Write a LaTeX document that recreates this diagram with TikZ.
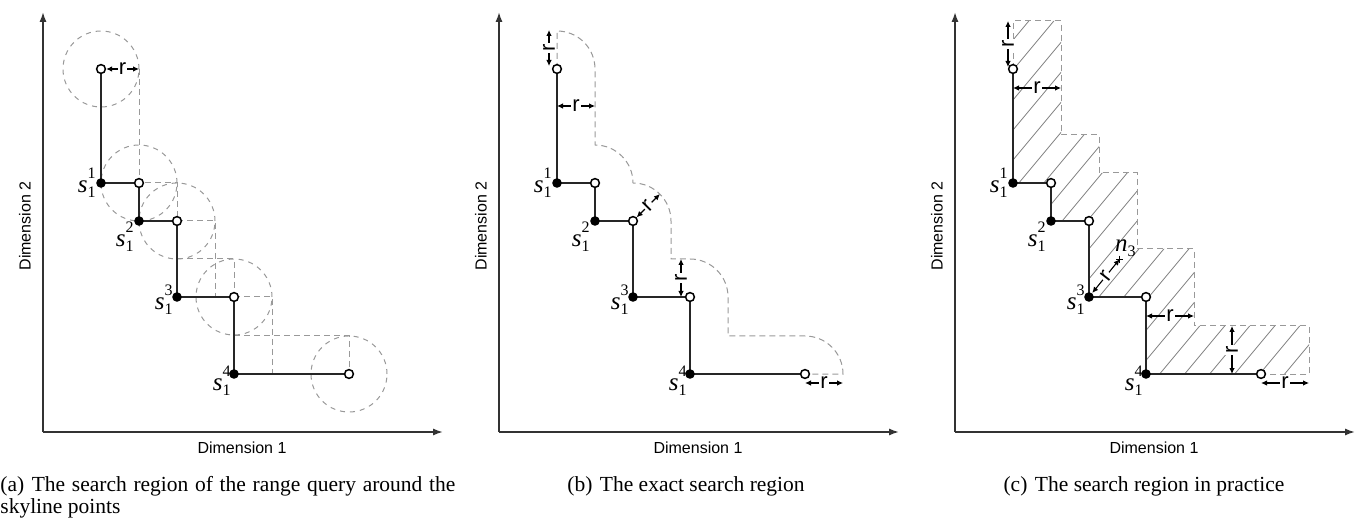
\documentclass[tikz,border=0pt]{standalone}
\usepackage{fontspec}
\setmainfont{Liberation Serif}
\setsansfont{Liberation Sans}
\usetikzlibrary{arrows.meta}

\definecolor{axiscol}{gray}{0.2}
\definecolor{guide}{gray}{0.6}
\definecolor{hatchcol}{gray}{0.5}

\tikzset{
  axis/.style={draw=axiscol, line width=0.9pt, -{Latex[length=5pt,width=3.6pt]}},
  stair/.style={draw=black!85, line width=0.65pt},
  guideline/.style={draw=guide, line width=0.5pt, dash pattern=on 3pt off 2pt},
  guidecircle/.style={draw=guide, line width=0.5pt, dash pattern=on 2.5pt off 2.5pt},
  hatchline/.style={draw=hatchcol, line width=0.4pt},
  skypt/.style={circle, fill=black, inner sep=0pt, minimum size=4.8pt},
  candpt/.style={circle, draw=black, fill=white, line width=0.75pt, inner sep=0pt, minimum size=4.4pt},
  rarrow/.style={{Latex[length=3pt,width=2.8pt]}-{Latex[length=3pt,width=2.8pt]}, line width=0.55pt, draw=black},
  rlabel/.style={font=\sffamily\fontsize{11}{11}\selectfont, fill=white, inner sep=0.5pt},
  dimlabel/.style={font=\sffamily\fontsize{8}{8}\selectfont, inner sep=0pt},
  ptlabel/.style={font=\fontsize{12.5}{12.5}\selectfont, inner sep=0pt},
  captext/.style={font=\fontsize{10.75}{11}\selectfont, inner sep=0pt},
}

% skyline point label s_1^k
\newcommand\sky[1]{\textit{s}\rlap{\raisebox{0.55em}{\fontsize{8}{8}\selectfont #1}}\raisebox{-0.2em}{\fontsize{8}{8}\selectfont 1}}

% axes and staircase coordinates of one panel
\newcommand\panelpoints[1]{%
  \coordinate (#1-org) at (43,432);
  \coordinate (#1-ytip) at (43,12);
  \coordinate (#1-xtip) at (443,432);
  \coordinate (#1-P0) at (101,69);
  \coordinate (#1-S1) at (101,183);
  \coordinate (#1-O1) at (139,183);
  \coordinate (#1-S2) at (139,221);
  \coordinate (#1-O2) at (177,221);
  \coordinate (#1-S3) at (177,297);
  \coordinate (#1-O3) at (234,297);
  \coordinate (#1-S4) at (234,374);
  \coordinate (#1-O4) at (349,374);
  \draw[axis] (#1-org) -- (#1-ytip);
  \draw[axis] (#1-org) -- (#1-xtip);
  \node[dimlabel] (#1-dim1) at (242,448) {Dimension 1};
  \node[dimlabel, rotate=90] (#1-dim2) at (25,226) {Dimension 2};
}

% staircase, point markers and point labels of one panel
\newcommand\panelstairs[1]{%
  \draw[stair] (#1-P0) -- (#1-S1) -- (#1-O1) -- (#1-S2) -- (#1-O2) -- (#1-S3) -- (#1-O3) -- (#1-S4) -- (#1-O4);
  \foreach \p in {S1,S2,S3,S4} \node[skypt] (#1-m\p) at (#1-\p) {};
  \foreach \p in {P0,O1,O2,O3,O4} \node[candpt] (#1-m\p) at (#1-\p) {};
  \node[ptlabel, anchor=east, xshift=-2.5pt] (#1-l1) at (#1-S1) {\sky{1}};
  \node[ptlabel, anchor=north east, xshift=-2.5pt, yshift=-0.5pt] (#1-l2) at (#1-S2) {\sky{2}};
  \node[ptlabel, anchor=east, xshift=-2pt, yshift=-1.5pt] (#1-l3) at (#1-S3) {\sky{3}};
  \node[ptlabel, anchor=east, xshift=-1.5pt, yshift=-3.5pt] (#1-l4) at (#1-S4) {\sky{4}};
}

\begin{document}
\begin{tikzpicture}[x=0.5pt,y=-0.5pt]
\useasboundingbox (0,0) rectangle (1355,518);

% ---------------- (a) range query circles ----------------
\begin{scope}
  \panelpoints{a}
  \foreach \p in {P0,O1,O2,O3,O4} \draw[guidecircle] (a-\p) circle[radius=19pt];
  \draw[guideline] (139,69) -- (a-O1) -- (177,183) -- (a-O2);
  \draw[guideline] (a-O2) -- (215,221) -- (215,297);
  \draw[guideline] (177,259) -- (234,259) -- (a-O3);
  \draw[guideline] (a-O3) -- (272,297) -- (272,374);
  \draw[guideline] (234,336) -- (349,336) -- (a-O4);
  \panelstairs{a}
  \coordinate (a-r1) at (139,69);
  \draw[rarrow] (a-mP0) -- (a-r1) node[midway, rlabel] (a-rl1) {r};
\end{scope}

% ---------------- (b) exact search region ----------------
\begin{scope}[xshift=228pt]
  \panelpoints{b}
  \draw[guideline] (b-P0) -- (101,31)
    arc[start angle=90, end angle=0, radius=19pt] -- (139,145)
    arc[start angle=90, end angle=0, radius=19pt]
    arc[start angle=90, end angle=0, radius=19pt] -- (215,259) -- (234,259)
    arc[start angle=90, end angle=0, radius=19pt] -- (272,336) -- (349,336)
    arc[start angle=90, end angle=0, radius=19pt] -- (b-O4);
  \panelstairs{b}
  \coordinate (b-r1a) at (93,30);
  \coordinate (b-r1b) at (93,66);
  \draw[rarrow] (b-r1a) -- (b-r1b) node[midway, rlabel, rotate=90] (b-rl1) {r};
  \coordinate (b-r2a) at (101,106);
  \coordinate (b-r2b) at (139,106);
  \draw[rarrow] (b-r2a) -- (b-r2b) node[midway, rlabel] (b-rl2) {r};
  \coordinate (b-r3) at (203.9,194.1);
  \draw[rarrow] (b-mO2) -- (b-r3) node[midway, rlabel, rotate=45] (b-rl3) {r};
  \coordinate (b-r4a) at (225,259);
  \coordinate (b-r4b) at (225,297);
  \draw[rarrow] (b-r4a) -- (b-r4b) node[midway, rlabel, rotate=90] (b-rl4) {r};
  \coordinate (b-r5a) at (349,383);
  \coordinate (b-r5b) at (387,383);
  \draw[rarrow] (b-r5a) -- (b-r5b) node[midway, rlabel] (b-rl5) {r};
\end{scope}

% ---------------- (c) search region in practice ----------------
\begin{scope}[xshift=456pt]
  \panelpoints{c}
  \begin{scope}
    \clip (101,69) -- (101,21) -- (149,21) -- (149,135) -- (187,135) -- (187,173)
      -- (225,173) -- (225,249) -- (282,249) -- (282,326) -- (397,326) -- (397,374)
      -- (234,374) -- (234,297) -- (177,297) -- (177,221) -- (139,221) -- (139,183)
      -- (101,183) -- cycle;
    \foreach \k in {-249,-224,...,401} \draw[hatchline] (\k,400) -- ++(330,-396);
  \end{scope}
  \draw[guideline] (c-P0) -- (101,21) -- (149,21) -- (149,135) -- (187,135) -- (187,173)
    -- (225,173) -- (225,249) -- (282,249) -- (282,326) -- (397,326) -- (397,374) -- (c-O4);
  \panelstairs{c}
  \coordinate (c-r1a) at (96,21);
  \coordinate (c-r1b) at (96,67);
  \draw[rarrow] (c-r1a) -- (c-r1b) node[midway, rlabel, rotate=90] (c-rl1) {r};
  \coordinate (c-r2a) at (101,88);
  \coordinate (c-r2b) at (149,88);
  \draw[rarrow] (c-r2a) -- (c-r2b) node[midway, rlabel] (c-rl2) {r};
  \coordinate (c-n3) at (207.6,259.2);
  \draw[rarrow] (c-mS3) -- (c-n3) node[midway, rlabel, rotate=52] (c-rl3) {r};
  \draw[line width=0.45pt] (c-n3) ++(-3.5,0) -- ++(7,0);
  \draw[line width=0.45pt] (c-n3) ++(0,-3.5) -- ++(0,7);
  \node[ptlabel, anchor=south west, xshift=-2.5pt, yshift=1pt] (c-n3l) at (c-n3) {\textit{n}\raisebox{-0.2em}{\fontsize{8}{8}\selectfont 3}};
  \coordinate (c-r4a) at (234,316);
  \coordinate (c-r4b) at (282,316);
  \draw[rarrow] (c-r4a) -- (c-r4b) node[midway, rlabel] (c-rl4) {r};
  \coordinate (c-r5a) at (320,326);
  \coordinate (c-r5b) at (320,374);
  \draw[rarrow] (c-r5a) -- (c-r5b) node[midway, rlabel, rotate=90] (c-rl5) {r};
  \coordinate (c-r6a) at (349,383);
  \coordinate (c-r6b) at (397,383);
  \draw[rarrow] (c-r6a) -- (c-r6b) node[midway, rlabel] (c-rl6) {r};
\end{scope}

% ---------------- captions ----------------
\node[captext, anchor=base west] (cap-a1) at (0,491.5)
  {\makebox[227.5pt][s]{(a)\hspace{0.35em}The search region of the range query around the}};
\node[captext, anchor=base west] (cap-a2) at (0,513) {skyline points};
\node[captext, anchor=base] (cap-b) at (686,491.5) {(b)\hspace{0.35em}The exact search region};
\node[captext, anchor=base] (cap-c) at (1144,491.5) {(c)\hspace{0.35em}The search region in practice};
\end{tikzpicture}
\end{document}
